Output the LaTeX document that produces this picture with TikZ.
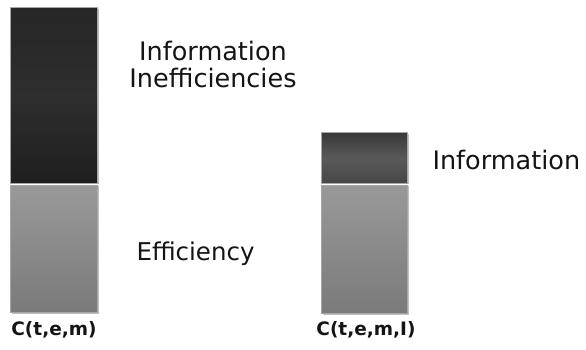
\documentclass[tikz,border=0pt]{standalone}
\usepackage{fontspec}
\setmainfont{DejaVu Sans}
\begin{document}
\begin{tikzpicture}[x=1pt,y=-1pt,
  seg/.style={draw=gray!70,line width=0.6pt},
  darkseg/.style={seg,top color=black!85,bottom color=black!88,middle color=black!82},
  midseg/.style={seg,top color=black!78,bottom color=black!72,middle color=black!65},
  lightseg/.style={seg,top color=black!40,bottom color=black!52},
  lbl/.style={font=\fontsize{25.5}{28}\selectfont,text=black!92,align=center},
  axlbl/.style={font=\bfseries\fontsize{18.5}{21}\selectfont,text=black!92}]
\useasboundingbox (0,0) rectangle (586,349);
% soft shadows behind the columns
\fill[black!25] (12,186) rectangle (99,314);
\fill[black!25] (12,9) rectangle (99,184);
\fill[black!25] (323,134) rectangle (409,184);
\fill[black!25] (323,186) rectangle (409,315);
% left column
\node[darkseg,minimum width=87,minimum height=176,inner sep=0,anchor=north west] (inef) at (10,7) {};
\node[lightseg,minimum width=87,minimum height=127,inner sep=0,anchor=north west] (eff) at (10,185) {};
% right column
\node[midseg,minimum width=86,minimum height=51,inner sep=0,anchor=north west] (info) at (321,132) {};
\node[lightseg,minimum width=86,minimum height=128,inner sep=0,anchor=north west] (eff2) at (321,185) {};
% labels
\node[lbl] (tinef) at (213,64) {Information\\[-1pt]Inefficiencies};
\node[lbl,anchor=west,font=\fontsize{24.5}{28}\selectfont] (teff) at (133,254) {Efficiency};
\node[lbl,anchor=west] (tinfo) at (429,160) {Information};
\node[axlbl] (c1) at (54,330) {C(t,e,m)};
\node[axlbl] (c2) at (366,330) {C(t,e,m,I)};
\end{tikzpicture}
\end{document}
